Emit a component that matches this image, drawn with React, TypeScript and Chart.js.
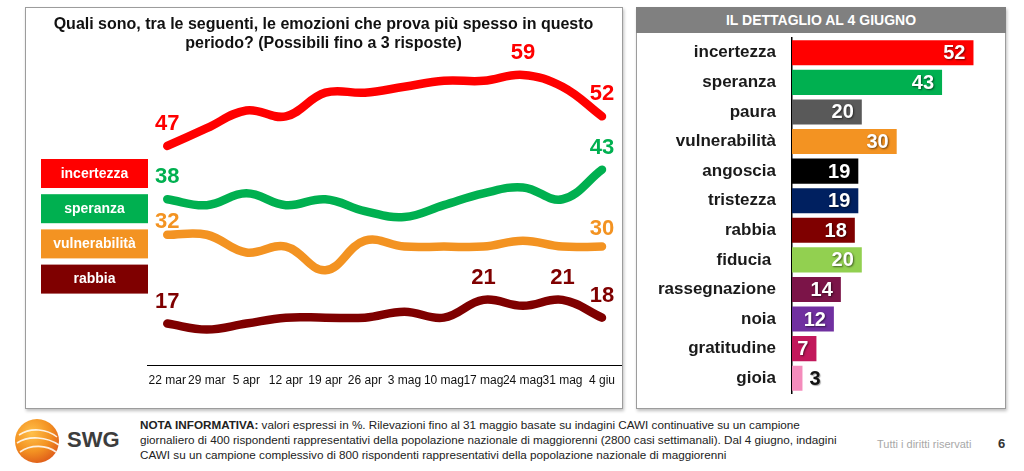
import React, { useEffect, useRef } from "react";
import { Chart, registerables } from "chart.js";

Chart.register(...registerables);

const FONT = "'Liberation Sans', Arial, Helvetica, sans-serif";

// ---------- data: weekly trend ----------
const weeks = ["22 mar", "29 mar", "5 apr", "12 apr", "19 apr", "26 apr", "3 mag", "10 mag", "17 mag", "24 mag", "31 mag", "4 giu"];
const incertezza = [47, 50, 53, 52, 56, 56, 57, 58, 58, 59, 57, 52];
const speranza = [38, 37, 39, 37, 38, 36, 35, 37, 39, 40, 38, 43];
const vulnerabilita = [32, 32, 29, 30, 26, 31, 30, 30, 30, 31, 30, 30];
const rabbia = [17, 16, 17, 18, 18, 18, 19, 18, 21, 20, 21, 18];
const trendNames = ["incertezza", "speranza", "vulnerabilità", "rabbia"];
const trendColors = ["#ff0000", "#00b050", "#f39322", "#7f0000"];
const labelledPoints = [[0, 9, 11], [0, 11], [0, 11], [0, 8, 10, 11]];
const titleLines = [
  "Quali sono, tra le seguenti, le emozioni che prova più spesso in questo",
  "periodo? (Possibili fino a 3 risposte)",
];

// ---------- data: detail at 4 June ----------
const detailTitle = "IL DETTAGLIO AL 4 GIUGNO";
const emotions = ["incertezza", "speranza", "paura", "vulnerabilità", "angoscia", "tristezza", "rabbia", "fiducia ", "rassegnazione", "noia", "gratitudine", "gioia"];
const june4 = [52, 43, 20, 30, 19, 19, 18, 20, 14, 12, 7, 3];
const emotionColors = ["#ff0000", "#00b050", "#595959", "#f39322", "#000000", "#002060", "#7f0000", "#92d050", "#7b1448", "#7030a0", "#c2185b", "#f48cbc"];

function LineChart() {
  const ref = useRef<HTMLCanvasElement | null>(null);
  useEffect(() => {
    const canvas = ref.current!;
    const series = [incertezza, speranza, vulnerabilita, rabbia];
    const decor = {
      id: "decor",
      afterDatasetsDraw(chart: any) {
        const ctx = chart.ctx;
        ctx.save();
        // title
        ctx.fillStyle = "#111";
        ctx.font = `bold 16px ${FONT}`;
        ctx.textAlign = "center";
        ctx.textBaseline = "middle";
        ctx.fillText(titleLines[0], 298.5, 18);
        ctx.fillText(titleLines[1], 298.5, 37);
        // legend boxes
        chart.data.datasets.forEach((ds: any, i: number) => {
          const top = 152 + i * 35.2;
          ctx.fillStyle = ds.borderColor;
          ctx.fillRect(16, top, 107, 29);
          ctx.fillStyle = "#fff";
          ctx.font = `bold 14px ${FONT}`;
          ctx.fillText(ds.label, 16 + 53.5, top + 15);
        });
        // point labels
        ctx.font = `bold 22px ${FONT}`;
        chart.data.datasets.forEach((ds: any, i: number) => {
          const meta = chart.getDatasetMeta(i);
          labelledPoints[i].forEach((idx) => {
            const el = meta.data[idx];
            let off = 22;
            if (i === 2 && idx === 0) off = 13;
            if (i === 2 && idx === 11) off = 18;
            ctx.fillStyle = ds.borderColor;
            ctx.fillText(String(ds.data[idx]), el.x, el.y - off);
          });
        });
        ctx.restore();
      },
    };
    const chart = new Chart(canvas, {
      type: "line",
      data: {
        labels: weeks,
        datasets: series.map((d, i) => ({
          label: trendNames[i],
          data: d,
          borderColor: trendColors[i],
          backgroundColor: trendColors[i],
          borderWidth: 8.5,
          borderCapStyle: "round",
          borderJoinStyle: "round",
          pointRadius: 0,
          tension: 0.4,
          fill: false,
        })),
      },
      options: {
        animation: false,
        responsive: false,
        devicePixelRatio: 1,
        layout: { padding: { left: 122.5, right: 0, top: 32.4, bottom: 14 } },
        plugins: { legend: { display: false }, tooltip: { enabled: false }, title: { display: false } },
        scales: {
          x: {
            offset: true,
            grid: { display: false, drawTicks: false },
            border: { display: true, color: "#000", width: 1 },
            ticks: { color: "#111", font: { family: FONT, size: 12 }, padding: 8, maxRotation: 0, autoSkip: false },
            afterFit: (s: any) => { s.height = 30; },
          },
          y: { display: false, min: 10, max: 65 },
        },
      },
      plugins: [decor],
    } as any);
    return () => chart.destroy();
  }, []);
  return <canvas ref={ref} width={598} height={402} style={{ position: "absolute", left: 25, top: 7, width: 598, height: 402 }} />;
}

function BarChart() {
  const ref = useRef<HTMLCanvasElement | null>(null);
  useEffect(() => {
    const canvas = ref.current!;
    const values = {
      id: "values",
      afterDatasetsDraw(chart: any) {
        const ctx = chart.ctx;
        const meta = chart.getDatasetMeta(0);
        ctx.save();
        ctx.font = `bold 20px ${FONT}`;
        ctx.textBaseline = "middle";
        meta.data.forEach((el: any, i: number) => {
          const v = june4[i];
          if (v < 5) {
            ctx.textAlign = "left";
            ctx.fillStyle = "#111";
            ctx.shadowColor = "rgba(0,0,0,0.35)";
            ctx.shadowOffsetX = 1;
            ctx.shadowOffsetY = 1;
            ctx.shadowBlur = 1;
            ctx.fillText(String(v), el.x + 7, el.y + 1);
          } else {
            ctx.textAlign = "right";
            ctx.fillStyle = "#fff";
            ctx.shadowColor = "rgba(0,0,0,0.55)";
            ctx.shadowOffsetX = 1;
            ctx.shadowOffsetY = 1;
            ctx.shadowBlur = 2;
            ctx.fillText(String(v), el.x - 8, el.y + 1);
          }
        });
        ctx.restore();
      },
    };
    const chart = new Chart(canvas, {
      type: "bar",
      data: {
        labels: emotions,
        datasets: [{ data: june4, backgroundColor: emotionColors, borderWidth: 0, categoryPercentage: 1, barPercentage: 0.85 }],
      },
      options: {
        indexAxis: "y",
        animation: false,
        responsive: false,
        devicePixelRatio: 1,
        layout: { padding: { left: 0, right: 4.6, top: 5, bottom: 16 } },
        plugins: { legend: { display: false }, tooltip: { enabled: false } },
        scales: {
          x: { display: false, min: 0, max: 60 },
          y: {
            grid: { display: false, drawTicks: false },
            border: { display: true, color: "#000", width: 1.5 },
            ticks: { color: "#1a1a1a", font: { family: FONT, size: 17, weight: "bold" }, padding: 16, autoSkip: false },
            afterFit: (s: any) => { s.width = 156; s.paddingTop = 0; s.paddingBottom = 0; },
          },
        },
      },
      plugins: [values],
    } as any);
    return () => chart.destroy();
  }, []);
  return <canvas ref={ref} width={370} height={376} style={{ position: "absolute", left: 636, top: 33, width: 370, height: 376 }} />;
}

function Logo() {
  return (
    <svg width={48} height={48} viewBox="0 0 48 48" style={{ position: "absolute", left: 13, top: 417 }}>
      <defs>
        <radialGradient id="sph" cx="0.38" cy="0.32" r="0.7">
          <stop offset="0" stopColor="#ffc04a" />
          <stop offset="0.6" stopColor="#f39222" />
          <stop offset="1" stopColor="#e0601a" />
        </radialGradient>
      </defs>
      <circle cx={24} cy={24} r={22} fill="url(#sph)" />
      <path d="M6 18 C18 10, 34 12, 44 20" stroke="#fff" strokeWidth={1.6} fill="none" opacity={0.85} />
      <path d="M4 26 C16 18, 34 20, 46 28" stroke="#fff" strokeWidth={1.6} fill="none" opacity={0.85} />
      <path d="M7 35 C18 27, 34 28, 43 35" stroke="#fff" strokeWidth={1.6} fill="none" opacity={0.85} />
    </svg>
  );
}

export default function App() {
  const noteStyle: React.CSSProperties = { position: "absolute", left: 140, fontFamily: FONT, fontSize: 11.7, color: "#222", whiteSpace: "nowrap", lineHeight: "15px" };
  return (
    <div style={{ position: "absolute", left: 0, top: 0, width: 1024, height: 471, background: "#fff", overflow: "hidden", fontFamily: FONT }}>
      <div style={{ position: "absolute", left: 25, top: 7, width: 598, height: 402, boxSizing: "border-box", border: "1px solid #9c9c9c", boxShadow: "1px 2px 3px rgba(0,0,0,0.25)" }} />
      <div style={{ position: "absolute", left: 636, top: 7, width: 370, height: 402, boxSizing: "border-box", border: "1px solid #9c9c9c", boxShadow: "1px 2px 3px rgba(0,0,0,0.25)" }} />
      <div style={{ position: "absolute", left: 636, top: 7, width: 370, height: 26, background: "#808080", color: "#fff", fontWeight: "bold", fontSize: 14, lineHeight: "26px", textAlign: "center" }}>{detailTitle}</div>
      <LineChart />
      <BarChart />
      <Logo />
      <div style={{ position: "absolute", left: 67, top: 427, fontFamily: FONT, fontWeight: "bold", fontSize: 22, color: "#3d3d3d", lineHeight: "26px" }}>SWG</div>
      <div style={{ ...noteStyle, top: 417 }}><b>NOTA INFORMATIVA:</b> valori espressi in %. Rilevazioni fino al 31 maggio basate su indagini CAWI continuative su un campione</div>
      <div style={{ ...noteStyle, top: 432 }}>giornaliero di 400 rispondenti rappresentativi della popolazione nazionale di maggiorenni (2800 casi settimanali). Dal 4 giugno, indagini</div>
      <div style={{ ...noteStyle, top: 447 }}>CAWI su un campione complessivo di 800 rispondenti rappresentativi della popolazione nazionale di maggiorenni</div>
      <div style={{ position: "absolute", left: 877, top: 437, fontFamily: FONT, fontSize: 11, color: "#a8a8a8", lineHeight: "15px" }}>Tutti i diritti riservati</div>
      <div style={{ position: "absolute", left: 998, top: 436, fontFamily: FONT, fontSize: 13, fontWeight: "bold", color: "#333", lineHeight: "16px" }}>6</div>
    </div>
  );
}
